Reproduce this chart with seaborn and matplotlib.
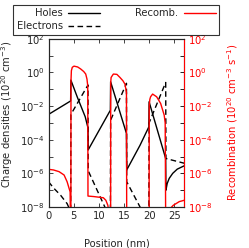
import numpy as np
import pandas as pd
import matplotlib
matplotlib.use("Agg")
import matplotlib.pyplot as plt
from matplotlib.lines import Line2D
import seaborn as sns

sns.set_style("ticks")
plt.rcParams['font.family'] = ['DejaVu Sans']
plt.rcParams['mathtext.default'] = 'regular'
FS = 7.2

# ---- data (log10 of values) ----
holes_x = [0, 4.4, 4.45, 5.7, 7.3, 7.85, 7.9, 12.3, 12.35, 15.5, 15.55, 18.2, 19.95, 20.0,
           23.3, 23.35, 23.6, 24.0, 24.7, 25.6, 27.0]
holes_log = [-2.5, -1.7, -0.46, -1.45, -2.64, -3.3, -4.6, -2.25, -0.56, -3.63, -5.8, -4.33, -3.24, -1.75,
             -5.12, -7.0, -6.6, -6.3, -6.0, -5.75, -5.55]

elec_x = [0, 1.1, 2.4, 3.7, 4.3, 4.4, 4.45, 7.85, 7.9, 11.2, 11.8, 12.3, 12.35, 15.5, 15.55,
          18.2, 18.8, 19.95, 20.0, 23.3, 23.35, 27.0]
elec_log = [-6.5, -6.9, -7.3, -7.8, -8.2, -9.0, -2.5, -0.75, -5.85, -8.0, -9.0, -9.0, -2.84, -0.65, -6.5,
            -8.0, -9.0, -9.0, -3.0, -0.6, -5.12, -5.4]

rec_x = [0, 1.0, 2.1, 3.1, 3.7, 4.3, 4.38, 4.45, 4.47, 4.55, 4.73, 5.07, 5.8, 6.4, 7.0, 7.4, 7.65, 7.8,
         7.85, 9.0, 10.9, 11.4, 11.8, 12.0, 12.25, 12.35, 12.37, 12.45, 12.9, 13.6, 14.2, 14.8, 15.2, 15.5,
         15.55, 20.0, 20.03, 20.15, 20.3, 20.7, 21.5, 22.3, 23.0, 23.2, 23.3,
         24.2, 24.4, 24.8, 25.35, 26.0, 27.0]
rec_log = [-5.76, -5.8, -5.9, -6.1, -6.5, -7.1, -9.0, -9.0, -0.5, 0.1, 0.3, 0.37, 0.32, 0.2, 0.05, -0.1, -0.4, -0.8,
           -7.35, -7.38, -7.45, -7.6, -7.9, -8.3, -9.0, -9.0, -0.6, -0.3, -0.1, -0.12, -0.3, -0.5, -0.7, -1.2,
           -9.0, -9.0, -2.0, -1.6, -1.45, -1.29, -1.45, -1.85, -2.54, -3.0, -9.0,
           -9.0, -8.03, -7.9, -7.8, -7.68, -7.6]

yticks = [-8, -6, -4, -2, 0, 2]
xticks = [0, 5, 10, 15, 20, 25]

holes = pd.DataFrame({"x": holes_x, "y": 10.0 ** np.array(holes_log)})
elec = pd.DataFrame({"x": elec_x, "y": 10.0 ** np.array(elec_log)})
rec = pd.DataFrame({"x": rec_x, "y": 10.0 ** np.array(rec_log)})

fig = plt.figure(figsize=(2.49, 2.48), dpi=100)
ax = fig.add_axes([48.5 / 249, 1 - 207 / 248, (184.3 - 48.5) / 249, (207 - 38.7) / 248])
ax2 = ax.twinx()

lw = 1.0
sns.lineplot(data=holes, x="x", y="y", ax=ax, sort=False, estimator=None, color="black", lw=lw)
sns.lineplot(data=elec, x="x", y="y", ax=ax, sort=False, estimator=None, color="black", lw=lw,
             linestyle=(0, (4, 2.5)))
sns.lineplot(data=rec, x="x", y="y", ax=ax2, sort=False, estimator=None, color="red", lw=lw)

for a in (ax, ax2):
    a.set_yscale("log")
    a.set_ylim(1e-8, 1e2)
    a.set_xlim(0, 27)
    a.set_yticks([10.0 ** k for k in range(-8, 3)])
    a.set_yticklabels(["10$^{%d}$" % k if k in yticks else "" for k in range(-8, 3)])
    a.minorticks_off()
    a.set_xlabel("")
    a.set_ylabel("")

ax.set_xticks(xticks)
ax.set_xticklabels([str(v) for v in xticks])
ax.tick_params(axis="both", direction="in", length=3, width=0.6, labelsize=FS, top=True, right=False, pad=3)
ax2.tick_params(axis="y", direction="in", length=3, width=0.6, labelsize=FS, colors="black",
                labelcolor="red", pad=3)
ax2.yaxis.set_minor_locator(matplotlib.ticker.NullLocator())
ax.yaxis.set_minor_locator(matplotlib.ticker.NullLocator())

for s in ax.spines.values():
    s.set_linewidth(0.8)
for s in ax2.spines.values():
    s.set_linewidth(0.8)
ax2.spines["right"].set_color("red")

ax.set_xlabel("Position (nm)", fontsize=FS)
ax.xaxis.set_label_coords(0.5, -0.19)
ax.set_ylabel("Charge densities (10$^{20}$ cm$^{-3}$)", fontsize=FS)
ax.yaxis.set_label_coords(-0.245, 0.55)
ax2.set_ylabel("Recombination (10$^{20}$ cm$^{-3}$ s$^{-1}$)", fontsize=FS, color="red")
ax2.yaxis.set_label_coords(1.30, 0.505)

handles = [Line2D([], [], color="black", lw=lw),
           Line2D([], [], color="black", lw=lw, linestyle=(0, (4, 2.5))),
           Line2D([], [], color="red", lw=lw)]
labels = ["Holes", "Electrons", "Recomb."]
leg = fig.legend(handles, labels, ncol=2, markerfirst=False, loc="upper left",
                 bbox_to_anchor=(13 / 249, 1 - 5 / 248, 206 / 249, 0.0), mode="expand",
                 fontsize=FS, frameon=True, fancybox=False, edgecolor="black",
                 handlelength=3.2, handletextpad=0.5, labelspacing=0.25, borderpad=0.35,
                 borderaxespad=0.0, columnspacing=2.0)
leg.get_frame().set_linewidth(0.8)

fig.savefig("out.png", dpi=100)
